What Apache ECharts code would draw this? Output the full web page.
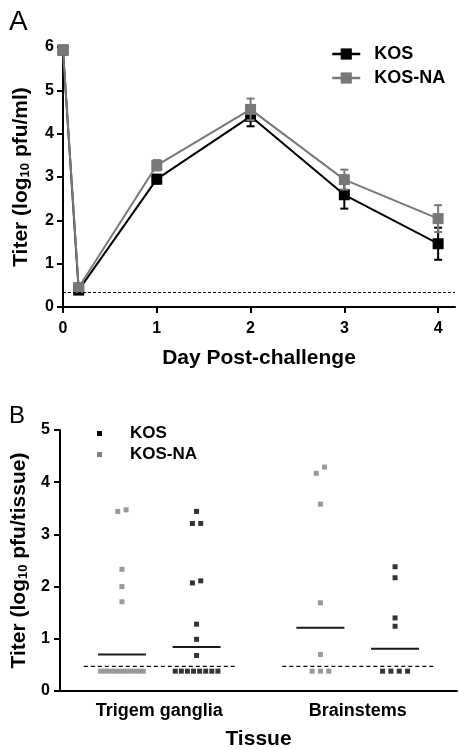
<!DOCTYPE html>
<html>
<head>
<meta charset="utf-8">
<script src="https://cdn.jsdelivr.net/npm/echarts@6/dist/echarts.min.js"></script>
<style>
  html, body { margin: 0; padding: 0; background: #fff; }
  #main { width: 459px; height: 749px; }
</style>
</head>
<body>
<div id="main"></div>
<script>
/**
 * DATA
 */
// panel A: titer over time
var days = [0, 0.167, 1, 2, 3, 4];
var kosMean = [5.93, 0.39, 2.95, 4.40, 2.59, 1.46];
var kosErr = [0, 0, 0.10, 0.23, 0.32, 0.37];
var kosNaMean = [5.93, 0.45, 3.27, 4.56, 2.94, 2.04];
var kosNaErr = [0, 0, 0.12, 0.25, 0.23, 0.31];
var limitA = 0.33;
var dayTicks = [0, 1, 2, 3, 4];

// panel B: titer per tissue
var tissues = ['Trigem ganglia', 'Brainstems'];
var tgKosNa = [3.44, 3.47, 2.33, 2.00, 1.71, 0.38, 0.38, 0.38, 0.38, 0.38, 0.38, 0.38, 0.38, 0.38, 0.38];
var tgKos = [3.44, 3.21, 3.21, 2.07, 2.11, 1.28, 0.99, 0.68, 0.38, 0.38, 0.38, 0.38, 0.38, 0.38, 0.38, 0.38];
var bsKosNa = [4.17, 4.29, 3.58, 1.69, 0.70, 0.38, 0.38, 0.38];
var bsKos = [2.38, 2.17, 1.40, 1.24, 0.38, 0.38, 0.38, 0.38];
var meanKosNa = [0.70, 1.21];
var meanKos = [0.845, 0.81];
var limitB = 0.47;

/**
 * CODE
 */
var FONT = 'Liberation Sans, Arial, sans-serif';
var BLACK = '#000';
var GRAY = '#787878';
var GRAY_B = '#808080';

var chart = echarts.init(document.getElementById('main'));

function errorData(mean, err) {
    var out = [];
    for (var i = 0; i < days.length; i++) {
        if (err[i] > 0) {
            out.push([days[i], mean[i] - err[i], mean[i] + err[i]]);
        }
    }
    return out;
}

function errorSeries(name, data, color, z) {
    return {
        name: name,
        type: 'custom',
        xAxisIndex: 0,
        yAxisIndex: 0,
        z: z,
        silent: true,
        data: data,
        encode: {x: 0, y: [1, 2]},
        renderItem: function (params, api) {
            var top = api.coord([api.value(0), api.value(2)]);
            var bot = api.coord([api.value(0), api.value(1)]);
            var hw = 4;
            var st = {stroke: color, lineWidth: 2};
            return {
                type: 'group',
                children: [
                    {type: 'line', shape: {x1: top[0], y1: top[1], x2: bot[0], y2: bot[1]}, style: st},
                    {type: 'line', shape: {x1: top[0] - hw, y1: top[1], x2: top[0] + hw, y2: top[1]}, style: st},
                    {type: 'line', shape: {x1: bot[0] - hw, y1: bot[1], x2: bot[0] + hw, y2: bot[1]}, style: st}
                ]
            };
        }
    };
}

// spread points that share (nearly) the same value side by side
function jitter(values, center) {
    var sorted = values.slice().sort(function (a, b) { return a - b; });
    var clusters = [];
    var cur = [];
    for (var i = 0; i < sorted.length; i++) {
        if (cur.length && sorted[i] - cur[cur.length - 1] >= 0.15) {
            clusters.push(cur);
            cur = [];
        }
        cur.push(sorted[i]);
    }
    if (cur.length) clusters.push(cur);
    var pts = [];
    clusters.forEach(function (c) {
        var n = c.length;
        var step = n > 1 ? Math.min(0.042, 0.215 / (n - 1)) : 0;
        c.forEach(function (v, k) {
            pts.push([center + (k - (n - 1) / 2) * step, v]);
        });
    });
    return pts;
}

var offset = 0.188;
var kosPts = jitter(tgKos, 0.5 + offset).concat(jitter(bsKos, 1.5 + offset));
var kosNaPts = jitter(tgKosNa, 0.5 - offset).concat(jitter(bsKosNa, 1.5 - offset));

var meanData = [
    [0.5 - offset, meanKosNa[0]], [0.5 + offset, meanKos[0]],
    [1.5 - offset, meanKosNa[1]], [1.5 + offset, meanKos[1]]
];
var limitData = [[0.5, limitB], [1.5, limitB]];

var axisLineStyle = {color: BLACK, width: 2};
var tickLabel = {fontSize: 16, fontWeight: 'bold', color: BLACK, fontFamily: FONT};
var nameStyle = {
    fontSize: 21, fontWeight: 'bold', color: BLACK, fontFamily: FONT,
    rich: {
        sub: {fontSize: 13, fontWeight: 'bold', color: BLACK, fontFamily: FONT, verticalAlign: 'bottom', padding: [8, 0, 0, 0]}
    }
};

var options = {
    animation: false,
    textStyle: {fontFamily: FONT},
    grid: [
        {left: 63, right: 4, top: 47, bottom: 442, outerBoundsMode: 'none'},
        {left: 60, right: 2, top: 430, bottom: 58, outerBoundsMode: 'none'}
    ],
    legend: [
        {
            data: ['KOS', 'KOS-NA'],
            orient: 'vertical',
            left: 331,
            top: 45,
            padding: 0,
            itemWidth: 28,
            itemHeight: 14,
            itemGap: 6,
            selectedMode: false,
            lineStyle: {width: 2.5},
            textStyle: {fontSize: 18, fontWeight: 'bold', color: BLACK, padding: [0, 0, 0, 9]}
        },
        {
            data: [
                {name: 'KOS', icon: 'rect', itemStyle: {color: BLACK}},
                {name: 'KOS-NA', icon: 'rect', itemStyle: {color: GRAY_B}}
            ],
            orient: 'vertical',
            left: 97,
            top: 425,
            padding: 0,
            itemWidth: 5,
            itemHeight: 5,
            itemGap: 4,
            selectedMode: false,
            textStyle: {fontSize: 17, fontWeight: 'bold', color: BLACK, padding: [0, 0, 0, 23]}
        }
    ],
    xAxis: [
        {
            gridIndex: 0,
            type: 'value',
            min: 0,
            max: 4.18,
            axisLine: {lineStyle: axisLineStyle},
            axisTick: {length: 6, lineStyle: {color: BLACK, width: 2}, customValues: dayTicks},
            axisLabel: Object.assign({margin: 14, customValues: dayTicks}, tickLabel),
            splitLine: {show: false},
            name: 'Day Post-challenge',
            nameLocation: 'middle',
            nameGap: 41,
            nameTextStyle: nameStyle
        },
        {
            gridIndex: 1,
            type: 'value',
            min: 0,
            max: 2,
            axisLine: {lineStyle: axisLineStyle},
            axisTick: {show: false},
            axisLabel: Object.assign({
                margin: 11,
                fontSize: 18,
                customValues: [0.5, 1.5],
                formatter: function (v) {
                    return tissues[Math.floor(v)];
                }
            }, {fontWeight: 'bold', color: BLACK, fontFamily: FONT}),
            splitLine: {show: false},
            name: 'Tissue',
            nameLocation: 'middle',
            nameGap: 38,
            nameTextStyle: nameStyle
        }
    ],
    yAxis: [
        {
            gridIndex: 0,
            type: 'value',
            min: 0,
            max: 6,
            interval: 1,
            axisLine: {show: true, lineStyle: axisLineStyle},
            axisTick: {show: true, length: 6, lineStyle: {color: BLACK, width: 2}},
            axisLabel: Object.assign({margin: 9}, tickLabel),
            splitLine: {show: false},
            name: 'Titer (log{sub|10} pfu/ml)',
            nameLocation: 'middle',
            nameGap: 31,
            nameTextStyle: nameStyle
        },
        {
            gridIndex: 1,
            type: 'value',
            min: 0,
            max: 5,
            interval: 1,
            axisLine: {show: true, lineStyle: axisLineStyle},
            axisTick: {show: true, length: 6, lineStyle: {color: BLACK, width: 2}},
            axisLabel: Object.assign({margin: 10}, tickLabel),
            splitLine: {show: false},
            name: 'Titer (log{sub|10} pfu/tissue)',
            nameLocation: 'middle',
            nameGap: 28,
            nameTextStyle: nameStyle
        }
    ],
    graphic: [
        {type: 'text', left: 9, top: 8, style: {text: 'A', fontSize: 28, fontFamily: FONT, fill: BLACK}},
        {type: 'text', left: 9, top: 404, style: {text: 'B', fontSize: 24, fontFamily: FONT, fill: BLACK}}
    ],
    series: [
        {
            name: 'KOS',
            type: 'line',
            xAxisIndex: 0,
            yAxisIndex: 0,
            z: 2,
            data: days.map(function (d, i) { return [d, kosMean[i]]; }),
            symbol: 'rect',
            symbolSize: 11,
            color: BLACK,
            lineStyle: {color: BLACK, width: 2},
            itemStyle: {color: BLACK},
            markLine: {
                silent: true,
                symbol: 'none',
                label: {show: false},
                lineStyle: {color: BLACK, width: 1, type: [3, 2]},
                data: [{yAxis: limitA}]
            }
        },
        errorSeries('errKos', errorData(kosMean, kosErr), BLACK, 1),
        {
            name: 'KOS-NA',
            type: 'line',
            xAxisIndex: 0,
            yAxisIndex: 0,
            z: 4,
            data: days.map(function (d, i) { return [d, kosNaMean[i]]; }),
            symbol: 'rect',
            symbolSize: 11,
            color: GRAY,
            lineStyle: {color: GRAY, width: 2},
            itemStyle: {color: GRAY}
        },
        errorSeries('errKosNa', errorData(kosNaMean, kosNaErr), GRAY, 3),
        {
            name: 'KOS-NA',
            type: 'scatter',
            xAxisIndex: 1,
            yAxisIndex: 1,
            symbol: 'rect',
            symbolSize: 5,
            itemStyle: {color: GRAY_B},
            data: kosNaPts
        },
        {
            name: 'KOS',
            type: 'scatter',
            xAxisIndex: 1,
            yAxisIndex: 1,
            symbol: 'rect',
            symbolSize: 5,
            itemStyle: {color: BLACK},
            data: kosPts
        },
        {
            name: 'mean',
            type: 'custom',
            xAxisIndex: 1,
            yAxisIndex: 1,
            silent: true,
            data: meanData,
            renderItem: function (params, api) {
                var p = api.coord([api.value(0), api.value(1)]);
                return {
                    type: 'line',
                    shape: {x1: p[0] - 24, y1: p[1], x2: p[0] + 24, y2: p[1]},
                    style: {stroke: '#1a1a1a', lineWidth: 2}
                };
            }
        },
        {
            name: 'limit',
            type: 'custom',
            xAxisIndex: 1,
            yAxisIndex: 1,
            silent: true,
            data: limitData,
            renderItem: function (params, api) {
                var a = api.coord([api.value(0) - 0.38, api.value(1)]);
                var b = api.coord([api.value(0) + 0.38, api.value(1)]);
                return {
                    type: 'line',
                    shape: {x1: a[0], y1: a[1], x2: b[0], y2: b[1]},
                    style: {stroke: BLACK, lineWidth: 1.3, lineDash: [4, 3]}
                };
            }
        }
    ]
};
chart.setOption(options);
</script>
</body>
</html>
